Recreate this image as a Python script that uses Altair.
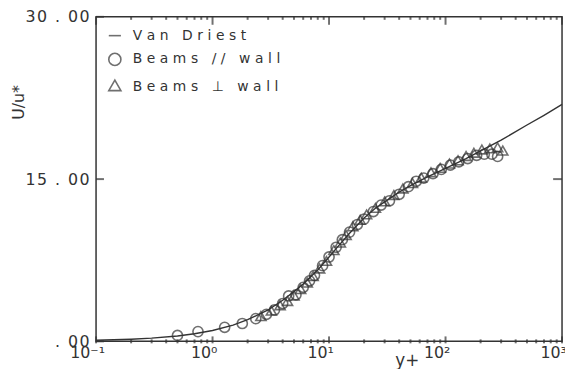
import altair as alt
import pandas as pd

# ---------------- data ----------------
line_yplus = [0.1, 0.2, 0.3, 0.5, 0.7, 1, 1.5, 2, 3, 4, 5, 6, 7, 8, 10, 12, 15, 20, 25, 30,
              40, 50, 70, 100, 150, 200, 300, 500, 700, 1000]
line_u = [0.1, 0.2, 0.3, 0.5, 0.7, 1.0, 1.5, 2.0, 2.9, 3.8, 4.6, 5.3, 6.0, 6.6, 7.8, 8.8, 10.0,
          11.4, 12.3, 12.9, 13.8, 14.4, 15.2, 16.0, 16.9, 17.6, 18.6, 20.0, 20.9, 21.9]

par_yplus = [0.5, 0.75, 1.27, 1.8, 2.35, 2.9, 3.4, 4.0, 4.5, 5.2, 6.0, 6.8, 7.5, 8.8, 10.0,
             11.5, 13, 15, 17.5, 20, 24, 28, 33, 40, 48, 56, 65, 78, 92, 110, 130, 155, 185,
             215, 250, 280]
par_u = [0.55, 0.9, 1.3, 1.65, 2.1, 2.5, 2.9, 3.5, 4.2, 4.3, 5.0, 5.6, 6.1, 7.0, 7.8,
         8.7, 9.4, 10.1, 10.8, 11.3, 12.0, 12.6, 13.0, 13.6, 14.3, 14.8, 15.1, 15.5, 15.9,
         16.3, 16.6, 16.9, 17.2, 17.3, 17.3, 17.1]

perp_yplus = [2.6, 3.2, 3.8, 4.4, 5.0, 5.7, 6.5, 7.3, 8.3, 9.5, 11, 12.5, 14, 16, 18.5, 21,
              25, 30, 36, 43, 52, 62, 75, 90, 108, 128, 150, 175, 205, 240, 280, 310]
perp_u = [2.2, 2.7, 3.2, 3.6, 4.1, 4.7, 5.3, 5.9, 6.6, 7.3, 8.3, 9.0, 9.7, 10.5, 11.1, 11.6,
          12.2, 12.8, 13.4, 14.0, 14.5, 15.0, 15.5, 15.9, 16.3, 16.6, 17.0, 17.3, 17.6, 17.7,
          17.8, 17.5]

series_names = ["Van Driest", "Beams // wall", "Beams \u22a5 wall"]
y_tick_values = [0, 15, 30]
y_tick_labels = [".00", "15.00", "30.00"]
x_major_ticks = [0.1, 1, 10, 100, 1000]
x_tick_labels = ["10\u207b\u00b9", "10\u2070", "10\u00b9", "10\u00b2", "10\u00b3"]
x_minor_ticks = [m * d for d in [0.1, 1, 10, 100] for m in range(2, 10)]
right_ticks = [15]

# ---------------- tables ----------------
line_df = pd.DataFrame({"yplus": line_yplus, "u": line_u, "series": series_names[0]})
pts_df = pd.concat([
    pd.DataFrame({"yplus": par_yplus, "u": par_u, "series": series_names[1]}),
    pd.DataFrame({"yplus": perp_yplus, "u": perp_u, "series": series_names[2]}),
])
major_df = pd.DataFrame({"tx": x_major_ticks})
minor_df = pd.DataFrame({"tx": x_minor_ticks})
ytick_df = pd.DataFrame({"ty": y_tick_values})
rtick_df = pd.DataFrame({"ty": right_ticks})

INK = "#333333"
FONT = "DejaVu Sans"
W, H = 471, 328

def spaced_y(s):
    out = ""
    for i, ch in enumerate(s):
        if ch == ".":
            out += "\u2002.\u2002"
        else:
            out += ch + ("\u200a" if i + 1 < len(s) and s[i + 1] != "." else "")
    return out

y_label_expr = " : ".join(
    f"datum.value == {v} ? '{spaced_y(l)}'" for v, l in zip(y_tick_values, y_tick_labels)
) + " : ''"

major = "abs(log(datum.value)/LN10 - round(log(datum.value)/LN10)) < 0.001"
arr = "[" + ",".join(f"'{l}'" for l in x_tick_labels) + "]"
x_label_expr = f"{major} ? {arr}[round(log(datum.value)/LN10)+1] : ''"

xscale = alt.Scale(type="log", domain=[0.1, 1000], nice=False)
yscale = alt.Scale(domain=[0, 30], nice=False, zero=False)

# inward tick marks on the frame, at the tick values
def xticks(df, top_len, bot_len):
    top = alt.Chart(df).mark_tick(color=INK, thickness=2, size=top_len, orient="vertical").encode(
        x=alt.X("tx:Q", scale=xscale), y=alt.value(top_len / 2))
    bot = alt.Chart(df).mark_tick(color=INK, thickness=2, size=bot_len + 2, orient="vertical").encode(
        x=alt.X("tx:Q", scale=xscale), y=alt.value(H - bot_len / 2 + 1))
    return [top, bot]

left_ticks = alt.Chart(ytick_df).mark_tick(color=INK, thickness=2, size=8, orient="horizontal").encode(
    y=alt.Y("ty:Q", scale=yscale), x=alt.value(4))
right_tick = alt.Chart(rtick_df).mark_tick(color=INK, thickness=2, size=9, orient="horizontal").encode(
    y=alt.Y("ty:Q", scale=yscale), x=alt.value(W - 4.5))

# Van Driest line + labelled axes
line = alt.Chart(line_df).mark_line(color=INK, strokeWidth=1.4).encode(
    x=alt.X("yplus:Q", scale=xscale,
            axis=alt.Axis(orient="bottom", title="y+", ticks=False, domain=False, grid=False,
                          values=x_major_ticks,
                          labelExpr=x_label_expr, labelOverlap=False, labelFlush=False,
                          labelFont=FONT, labelFontSize=16, labelColor=INK, labelPadding=3,
                          labelOffset=-9,
                          titleFont=FONT, titleFontSize=17, titleFontWeight="normal",
                          titleColor=INK, titleX=314, titleY=24,
                          titleBaseline="alphabetic")),
    y=alt.Y("u:Q", scale=yscale,
            axis=alt.Axis(orient="left", title="U/u*", ticks=False, domain=False, grid=False,
                          values=y_tick_values, labelExpr=y_label_expr,
                          labelFont=FONT, labelFontSize=16, labelColor=INK, labelPadding=7,
                          titleFont=FONT, titleFontSize=16, titleFontWeight="normal",
                          titleColor=INK, titleX=-78, titleY=86, titleAngle=270,
                          titleBaseline="middle")),
)

# points with legend
points = alt.Chart(pts_df).mark_point(filled=False, color=INK, strokeWidth=1.6, size=105).encode(
    x=alt.X("yplus:Q", scale=xscale),
    y=alt.Y("u:Q", scale=yscale),
    shape=alt.Shape("series:N",
                    scale=alt.Scale(domain=series_names, range=["stroke", "circle", "triangle"]),
                    legend=alt.Legend(title=None, orient="top-left", offset=10, padding=2,
                                      symbolSize=150, symbolStrokeColor=INK,
                                      symbolStrokeWidth=1.6, symbolFillColor="transparent",
                                      labelFont=FONT, labelFontSize=14, labelColor=INK,
                                      labelExpr="join(split(datum.label, ''), '\u2004')",
                                      rowPadding=7, labelOffset=11)),
)

chart = alt.layer(
    line, *xticks(major_df, 8, 5), *xticks(minor_df, 3, 2), left_ticks, right_tick, points
).properties(
    width=W, height=H,
    autosize=alt.AutoSizeParams(type="none"),
    padding={"left": 89, "top": 7, "right": 3, "bottom": 26},
    background="white",
).configure_view(stroke=INK, strokeWidth=1.5)

chart.save("out.html", embed_options={"renderer": "svg", "actions": False})
